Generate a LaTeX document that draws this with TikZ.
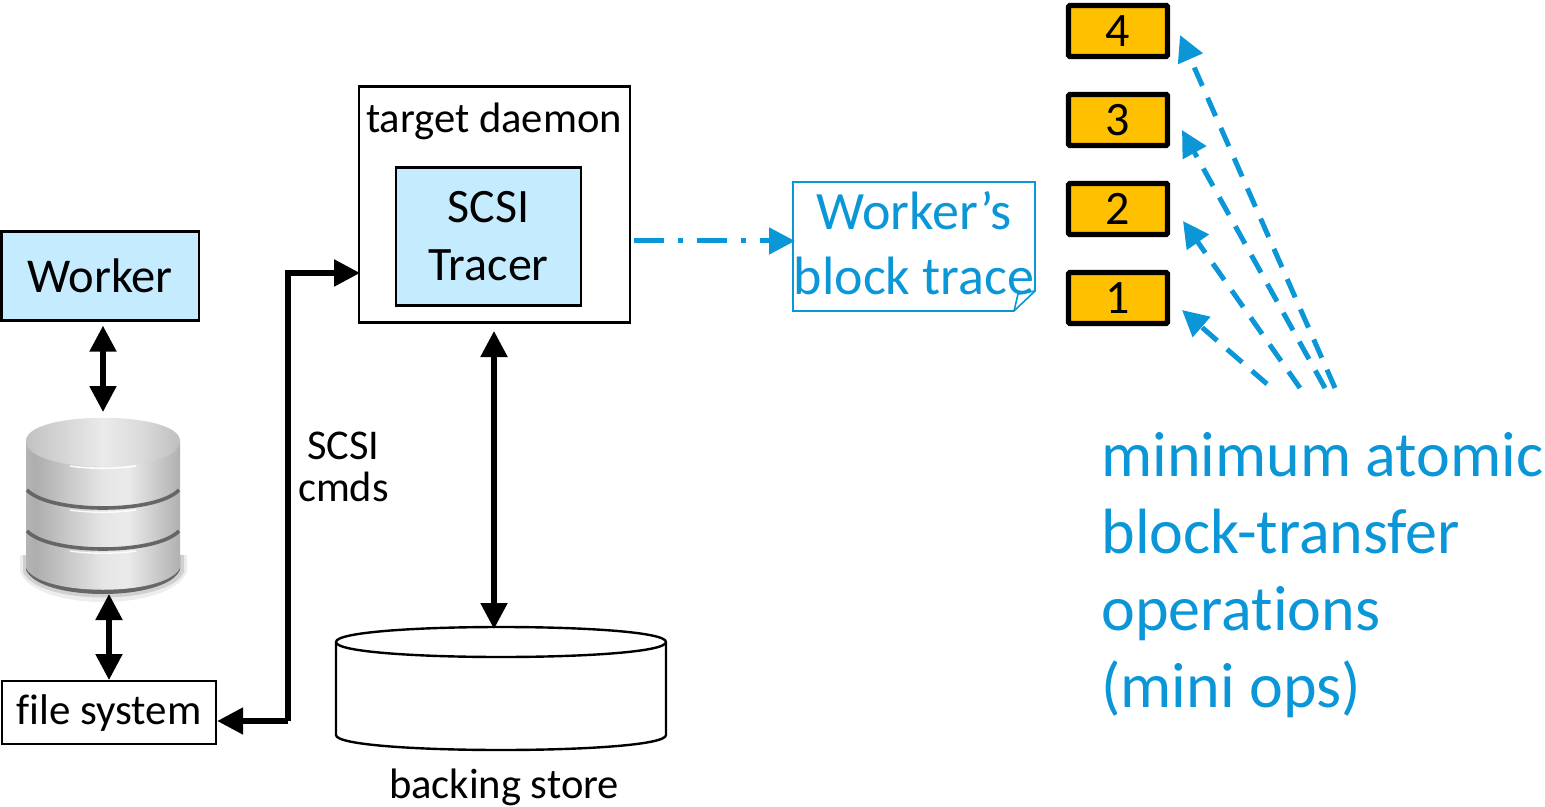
\documentclass[tikz,border=0pt]{standalone}
\usepackage{fontspec}
\setmainfont[Ligatures=NoCommon]{Carlito}
\usetikzlibrary{arrows.meta}
\definecolor{tblue}{HTML}{0B96D8}
\definecolor{lblue}{HTML}{C5EBFF}
\definecolor{gold}{HTML}{FFC000}
\newcommand{\fs}[2]{\fontsize{#1}{#2}\selectfont}
\pgfdeclarehorizontalshading{cylbody}{100bp}{
  color(0bp)=(black!12); color(8bp)=(black!14); color(28bp)=(black!32);
  color(50bp)=(black!10); color(58bp)=(black!8); color(78bp)=(black!35); color(95bp)=(black!22); color(100bp)=(black!10)}
\pgfdeclarehorizontalshading{cyltop}{100bp}{
  color(0bp)=(black!14); color(25bp)=(black!24); color(50bp)=(black!8);
  color(62bp)=(black!14); color(85bp)=(black!34); color(100bp)=(black!24)}
\tikzset{
  x=0.5pt,y=-0.5pt,
  box/.style={draw=black,line width=1.1pt,inner sep=0pt,anchor=north west},
  blubox/.style={box,fill=lblue},
  numbox/.style={draw=black,fill=gold,line width=2.6pt,rounded corners=0.6pt,minimum width=49.5pt,minimum height=25.5pt,inner sep=0pt,font=\fs{24}{28}},
  txt/.style={inner sep=0pt,align=center},
  blk/.style={line width=2.6pt},
  both/.style={blk,{Triangle[length=13pt,width=13pt]}-{Triangle[length=13pt,width=13pt]}},
  single/.style={blk,-{Triangle[length=13pt,width=13pt]}},
  blu/.style={draw=tblue,line width=2.5pt,dash pattern=on 10pt off 6.5pt,-{Triangle[length=13pt,width=13pt]}},
}
\begin{document}
\begin{tikzpicture}
\useasboundingbox (0,0) rectangle (1545,807);
% Worker
\node[blubox,minimum width=98.5pt,minimum height=44.5pt,font=\fs{24.3}{28}] (worker) at (0.5,230.5) {Worker};
% database icon
\begin{scope}
  \fill[black,opacity=0.07] (20,555) -- (187,555) -- (187,572) .. controls (170,612) and (36,612) .. (20,572) -- cycle;
  \fill[black,opacity=0.12] (23,555) -- (184,555) -- (184,572) .. controls (168,606) and (38,606) .. (23,572) -- cycle;
  \fill[black!60] (26,555) -- (180,555) -- (180,570) .. controls (166,602) and (40,602) .. (26,570) -- cycle;
  \shade[shading=cylbody]
     (26,441) -- (26,568) .. controls (40,597) and (166,597) .. (180,568) -- (180,441) -- cycle;
  \shade[shading=cyltop] (26,441) .. controls (26,410) and (180,410) .. (180,441) .. controls (180,475) and (26,475) .. (26,441) -- cycle;
  \draw[white,line width=0.8pt,opacity=0.9] (70,466) .. controls (90,469) and (116,469) .. (136,466);
  \draw[black!60,line width=1.8pt] (27,490) .. controls (50,514) and (156,514) .. (179,490);
  \draw[black!60,line width=1.8pt] (27,531) .. controls (50,555) and (156,555) .. (179,531);
  \draw[white,line width=0.7pt,opacity=0.9] (70,510) .. controls (90,513) and (116,513) .. (136,510);
  \draw[white,line width=0.7pt,opacity=0.9] (70,551) .. controls (90,554) and (116,554) .. (136,551);
\end{scope}
\coordinate (dbtop) at (103,412);
\coordinate (dbbot) at (109,594);
% file system
\node[box,fill=white,minimum width=107pt,minimum height=31.5pt,font=\fs{21.5}{24}] (fs) at (1,680) {\raisebox{-1pt}{file system}};
% target daemon
\node[box,minimum width=135.5pt,minimum height=118pt,anchor=north west] (td) at (358,85.5) {};
\node[txt,font=\fs{21.3}{24}] (tdl) at (494,121) {target daemon};
\node[blubox,minimum width=92.5pt,minimum height=69pt,font=\fs{24}{29},align=center] (tracer) at (395,166.5) {SCSI\\Tracer};
% backing store
\draw[black,line width=1.2pt,fill=white] (336,642) -- (336,735) .. controls (336,755) and (666,755) .. (666,735) -- (666,642) .. controls (666,622) and (336,622) .. (336,642) -- cycle;
\draw[black,line width=1.2pt] (336,642) .. controls (336,662) and (666,662) .. (666,642);
\coordinate (bstop) at (494,629);
\coordinate (tdbot) at (494,331);
\node[txt,font=\fs{21.3}{24}] (bsl) at (504,787) {backing store};
\node[txt,font=\fs{21.2}{21}] (cmds) at (343.5,467) {SCSI\\cmds};
% trace note
\draw[tblue,line width=0.8pt] (793,182) -- (1035,182) -- (1035,291) -- (1014,311) -- (793,311) -- cycle;
\draw[tblue,line width=0.8pt] (1035,291) -- (1018,294) -- (1014,311);
\coordinate (note) at (795,241);
\coordinate (tdout) at (634,241);
\node[txt,text=tblue,font=\fs{27}{32.5}] (notel) at (914,243) {Worker’s\\block trace};
% numbered boxes
\node[numbox] (n4) at (1118,31) {\raisebox{-1pt}{4}};
\node[numbox] (n3) at (1118,120) {\raisebox{-0.5pt}{3}};
\node[numbox] (n2) at (1118,209) {2};
\node[numbox] (n1) at (1118,298) {1};
\node[txt,text=tblue,align=left,anchor=north west,font=\fs{32}{38.5}] (mini) at (1101,432) {minimum atomic\\block-transfer\\operations\\(mini ops)};
% connectors
\coordinate (a1) at (1182,310); \coordinate (s1) at (1267,384);
\coordinate (a2) at (1183,221); \coordinate (s2) at (1300,388);
\coordinate (a3) at (1182,130); \coordinate (s3) at (1325,388);
\coordinate (a4) at (1180,35);  \coordinate (s4) at (1335,388);
\draw[both] (worker.south -| dbtop) ++(0,4) -- (dbtop);
\draw[both] (dbbot) -- (fs.north -| dbbot);
\draw[both] (tdbot) -- (bstop);
\coordinate (elbowb) at (288,721);
\coordinate (elbowt) at (288,273);
\coordinate (tdin) at ([xshift=1pt]td.west |- elbowt);
\draw[single,line join=miter] (elbowb) -- (elbowt) -- (tdin);
\draw[single] (elbowb) -- (fs.east |- elbowb);
\draw[tblue,line width=2.5pt,dash pattern=on 15pt off 7pt on 2.5pt off 7pt,-{Triangle[length=13pt,width=13pt]}] (tdout) -- (note);
\draw[blu] (s1) -- (a1);
\draw[blu] (s2) -- (a2);
\draw[blu] (s3) -- (a3);
\draw[blu] (s4) -- (a4);
\end{tikzpicture}
\end{document}
